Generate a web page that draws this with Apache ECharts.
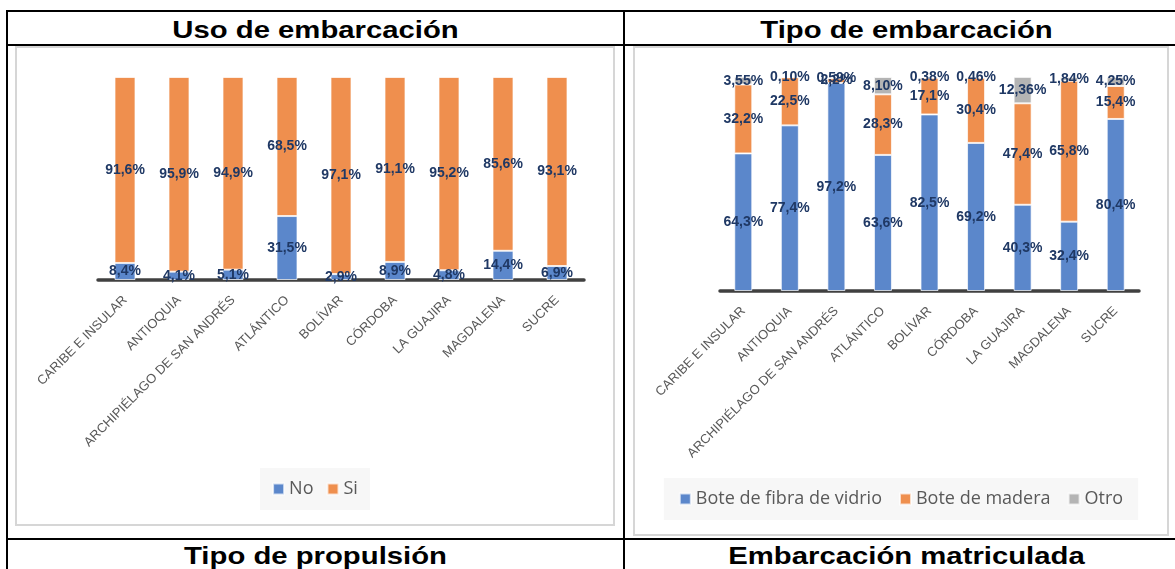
<!DOCTYPE html>
<html><head><meta charset="utf-8">
<script src="https://cdn.jsdelivr.net/npm/echarts@6/dist/echarts.min.js"></script>
<style>
html,body{margin:0;padding:0;}
body{width:1175px;height:569px;overflow:hidden;background:#fff;position:relative;font-family:'Liberation Sans',Arial,sans-serif;}
.hl{position:absolute;background:#000;height:2px;}
.vl{position:absolute;background:#000;width:2px;}
.title{position:absolute;font-weight:bold;font-size:24px;line-height:24px;color:#000;text-align:center;white-space:nowrap;transform:scaleX(1.22);transform-origin:center;}
.box{position:absolute;border:2px solid #d6d6d6;box-sizing:border-box;}
.chart{position:absolute;}
</style></head>
<body>
<div class="hl" style="left:6px;top:10px;width:1169px;"></div>
<div class="hl" style="left:6px;top:44px;width:1169px;"></div>
<div class="hl" style="left:6px;top:538px;width:1169px;"></div>
<div class="vl" style="left:6px;top:10px;height:559px;"></div>
<div class="vl" style="left:623px;top:10px;height:559px;"></div>
<div class="title" style="left:8px;top:18px;width:615px;">Uso de embarcación</div>
<div class="title" style="left:625px;top:18px;width:563px;">Tipo de embarcación</div>
<div class="title" style="left:8px;top:544px;width:615px;">Tipo de propulsión</div>
<div class="title" style="left:625px;top:544px;width:563px;">Embarcación matriculada</div>
<div class="box" style="left:15px;top:46px;width:600px;height:480px;"></div>
<div class="box" style="left:633px;top:46px;width:536px;height:490px;"></div>
<div id="c1" class="chart" style="left:15px;top:46px;width:600px;height:480px;"></div>
<div id="c2" class="chart" style="left:633px;top:46px;width:536px;height:490px;"></div>
<script>
const categories = ['CARIBE E INSULAR','ANTIOQUIA','ARCHIPIÉLAGO DE SAN ANDRÉS','ATLÁNTICO','BOLÍVAR','CÓRDOBA','LA GUAJIRA','MAGDALENA','SUCRE'];
const usoNo = [8.4, 4.1, 5.1, 31.5, 2.9, 8.9, 4.8, 14.4, 6.9];
const usoSi = [91.6, 95.9, 94.9, 68.5, 97.1, 91.1, 95.2, 85.6, 93.1];
const fibra = [64.3, 77.4, 97.2, 63.6, 82.5, 69.2, 40.3, 32.4, 80.4];
const madera = [32.2, 22.5, 2.2, 28.3, 17.1, 30.4, 47.4, 65.8, 15.4];
const otro = [3.55, 0.10, 0.59, 8.10, 0.38, 0.46, 12.36, 1.84, 4.25];

const FONT = "'Liberation Sans', Arial, sans-serif";
const LFONT = "'Open Sans', 'Liberation Sans', sans-serif";
const BLUE = '#5b87cb', ORANGE = '#ef8f4e', GRAY = '#b4b4b4';
function fmt(dec){ return p => p.value.toFixed(dec).replace('.', ',') + '%'; }
function lbl(dec){
  return {show:true, position:'inside', color:'#1f3864', fontWeight:'bold', fontSize:14,
    fontFamily:FONT, textBorderWidth:0, formatter:fmt(dec)};
}
function bar(name, data, color, width, dec){
  return {name, type:'bar', stack:'t', data, barWidth:width,
    itemStyle:{color, borderColor:'rgba(255,255,255,0.7)', borderWidth:1},
    label:lbl(dec)};
}
function xAx(){
  return {type:'category', data:categories,
    axisLine:{lineStyle:{color:'#404040', width:3.5}},
    axisTick:{show:false},
    axisLabel:{rotate:45, margin:18, color:'#595959', fontSize:13, fontFamily:FONT, interval:0}};
}
function yAx(){
  return {type:'value', min:0, max:100, show:false, splitLine:{show:false}};
}
function legend(top, gap, pad){
  return {top, left:'center', backgroundColor:'#f7f7f7', padding:[12,pad],
    itemWidth:11, itemHeight:11, itemGap:gap, icon:'rect',
    textStyle:{color:'#595959', fontSize:18, fontFamily:LFONT, lineHeight:18}};
}

const c1 = echarts.init(document.getElementById('c1'));
c1.setOption({
  animation:false,
  grid:{left:83, top:31, width:486, height:203},
  xAxis:xAx(), yAxis:yAx(),
  legend:legend(422, 13, 12),
  series:[bar('No', usoNo, BLUE, 21, 1), bar('Si', usoSi, ORANGE, 21, 1)]
});

const c2 = echarts.init(document.getElementById('c2'));
c2.setOption({
  animation:false,
  grid:{left:87, top:31, width:419, height:214},
  xAxis:xAx(), yAxis:yAx(),
  legend:legend(432, 17, 15),
  series:[bar('Bote de fibra de vidrio', fibra, BLUE, 18, 1),
          bar('Bote de madera', madera, ORANGE, 18, 1),
          bar('Otro', otro, GRAY, 18, 2)]
});
</script>
</body></html>
